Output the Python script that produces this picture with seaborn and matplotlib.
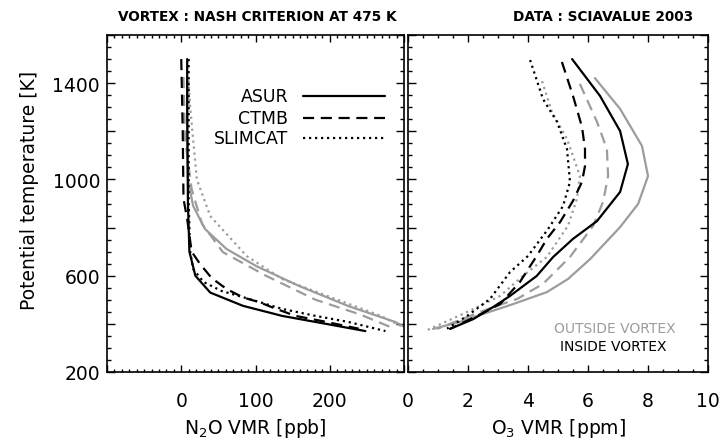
import numpy as np
import pandas as pd
import matplotlib
matplotlib.use("Agg")
import matplotlib.pyplot as plt
from matplotlib.lines import Line2D
from matplotlib.ticker import MultipleLocator, FuncFormatter
import seaborn as sns

sns.set_style("white")
plt.rcParams["font.family"] = ["DejaVu Sans"]
plt.rcParams["text.color"] = "black"
plt.rcParams["axes.labelcolor"] = "black"
plt.rcParams["xtick.color"] = "black"
plt.rcParams["ytick.color"] = "black"

# ---- N2O profiles (ppb) vs potential temperature (K) ----
n2o_asur_in_theta = [1500, 1300, 1100, 900, 700, 600, 530, 475, 433, 400, 370]
n2o_asur_in = [8, 8, 8.5, 9, 11, 19, 39, 83, 136, 195, 248]
n2o_ctmb_in_theta = [1500, 1200, 920, 835, 700, 650, 590, 545, 510, 490, 462, 433, 412, 380]
n2o_ctmb_in = [0, 2, 3, 8, 14, 25, 41, 61, 83, 105, 128, 154, 189, 239]
n2o_slim_in_theta = [1500, 1200, 900, 700, 628, 574, 537, 503, 462, 433, 408, 370]
n2o_slim_in = [10, 10, 10, 12, 16, 30, 54, 92, 136, 181, 225, 275]

n2o_asur_out_theta = [1420, 1200, 1000, 890, 794, 711, 640, 557, 474, 408, 380]
n2o_asur_out = [8, 8, 9, 16, 32, 61, 101, 159, 225, 288, 305]
n2o_ctmb_out_theta = [1425, 1168, 960, 815, 698, 600, 500, 440, 379]
n2o_ctmb_out = [3, 5, 14, 28, 56, 114, 181, 240, 288]
n2o_slim_out_theta = [1410, 1300, 1000, 848, 682, 586, 503, 433, 391, 370]
n2o_slim_out = [10, 12, 21, 39, 88, 136, 208, 269, 296, 315]

# ---- O3 profiles (ppm) vs potential temperature (K) ----
o3_asur_in_theta = [1500, 1347, 1201, 1064, 948, 827, 753, 678, 599, 516, 470, 420, 379]
o3_asur_in = [5.47, 6.4, 7.07, 7.33, 7.07, 6.3, 5.5, 4.84, 4.29, 3.4, 2.84, 2.18, 1.4]
o3_ctmb_in_theta = [1488, 1347, 1218, 1126, 1056, 990, 911, 823, 753, 682, 574, 482, 433, 379]
o3_ctmb_in = [5.13, 5.5, 5.8, 5.9, 5.9, 5.8, 5.5, 5.07, 4.63, 4.29, 3.73, 3.07, 2.3, 1.4]
o3_slim_in_theta = [1496, 1334, 1239, 1126, 990, 890, 794, 682, 615, 503, 433, 380]
o3_slim_in = [4.07, 4.5, 4.97, 5.3, 5.4, 5.17, 4.67, 4.0, 3.4, 2.73, 1.97, 1.3]

o3_asur_out_theta = [1421, 1293, 1139, 1014, 898, 802, 669, 586, 532, 482, 441, 408, 379]
o3_asur_out = [6.23, 7.07, 7.8, 8.0, 7.67, 7.07, 6.07, 5.33, 4.63, 3.5, 2.5, 1.73, 0.83]
o3_ctmb_out_theta = [1397, 1239, 1126, 1014, 906, 807, 678, 566, 503, 470, 428, 379]
o3_ctmb_out = [5.73, 6.3, 6.63, 6.67, 6.5, 6.17, 5.4, 4.5, 3.63, 2.84, 1.97, 0.97]
o3_slim_out_theta = [1408, 1280, 1168, 1072, 1014, 919, 807, 678, 599, 516, 449, 370]
o3_slim_out = [4.47, 4.8, 5.3, 5.57, 5.73, 5.63, 5.33, 4.63, 3.83, 3.07, 1.97, 0.57]

models = ["ASUR", "CTMB", "SLIMCAT"]
regions = ["OUTSIDE VORTEX", "INSIDE VORTEX"]

GRAY = "#9c9c9c"
palette = {"OUTSIDE VORTEX": GRAY, "INSIDE VORTEX": "black"}
dashes = {"ASUR": "", "CTMB": (5, 3), "SLIMCAT": (1, 1.7)}


def frame(profiles):
    rows = []
    for (model, region), (theta, vmr) in profiles.items():
        for t, v in zip(theta, vmr):
            rows.append({"model": model, "region": region, "theta": t, "vmr": v})
    return pd.DataFrame(rows)


n2o = frame({
    ("ASUR", "OUTSIDE VORTEX"): (n2o_asur_out_theta, n2o_asur_out),
    ("CTMB", "OUTSIDE VORTEX"): (n2o_ctmb_out_theta, n2o_ctmb_out),
    ("SLIMCAT", "OUTSIDE VORTEX"): (n2o_slim_out_theta, n2o_slim_out),
    ("ASUR", "INSIDE VORTEX"): (n2o_asur_in_theta, n2o_asur_in),
    ("CTMB", "INSIDE VORTEX"): (n2o_ctmb_in_theta, n2o_ctmb_in),
    ("SLIMCAT", "INSIDE VORTEX"): (n2o_slim_in_theta, n2o_slim_in),
})
o3 = frame({
    ("ASUR", "OUTSIDE VORTEX"): (o3_asur_out_theta, o3_asur_out),
    ("CTMB", "OUTSIDE VORTEX"): (o3_ctmb_out_theta, o3_ctmb_out),
    ("SLIMCAT", "OUTSIDE VORTEX"): (o3_slim_out_theta, o3_slim_out),
    ("ASUR", "INSIDE VORTEX"): (o3_asur_in_theta, o3_asur_in),
    ("CTMB", "INSIDE VORTEX"): (o3_ctmb_in_theta, o3_ctmb_in),
    ("SLIMCAT", "INSIDE VORTEX"): (o3_slim_in_theta, o3_slim_in),
})

fig = plt.figure(figsize=(7.21, 4.39), dpi=100)
ax1 = fig.add_axes([107 / 721, 1 - 373 / 439, 297 / 721, 337 / 439])
ax2 = fig.add_axes([408 / 721, 1 - 373 / 439, 300 / 721, 337 / 439])

for ax, df in ((ax1, n2o), (ax2, o3)):
    sns.lineplot(data=df, x="vmr", y="theta", hue="region", style="model",
                 hue_order=regions, style_order=models, palette=palette,
                 dashes=dashes, sort=False, estimator=None, orient="y",
                 lw=1.6, legend=False, ax=ax)

ylabels = {200: "200", 600: "600", 1000: "1000", 1400: "1400"}
for ax in (ax1, ax2):
    ax.set_ylim(200, 1600)
    ax.yaxis.set_major_locator(MultipleLocator(200))
    ax.yaxis.set_minor_locator(MultipleLocator(50))
    ax.tick_params(axis="both", which="both", direction="in",
                   top=True, right=True, bottom=True, left=True, width=1.0,
                   colors="black", labelsize=13.5)
    ax.tick_params(axis="y", which="major", length=5.5, pad=5)
    ax.tick_params(axis="y", which="minor", length=3)
    ax.tick_params(axis="x", which="major", length=5, pad=14)
    ax.tick_params(axis="x", which="minor", length=2.5)
    for s in ax.spines.values():
        s.set_color("black")
        s.set_linewidth(1.2)
    ax.set_xlabel("")
    ax.set_ylabel("")

ax1.yaxis.set_major_formatter(FuncFormatter(lambda v, p: ylabels.get(int(round(v)), "")))
ax2.tick_params(axis="y", labelleft=False)

ax1.set_xlim(-100, 300)
ax1.xaxis.set_major_locator(MultipleLocator(100))
ax1.xaxis.set_minor_locator(MultipleLocator(10))
ax1.xaxis.set_major_formatter(FuncFormatter(lambda v, p: f"{int(v)}" if 0 <= v <= 200 else ""))

ax2.set_xlim(0, 10)
ax2.xaxis.set_major_locator(MultipleLocator(2))
ax2.xaxis.set_minor_locator(MultipleLocator(0.5))
ax2.xaxis.set_major_formatter(FuncFormatter(lambda v, p: f"{int(v)}"))

fig.text(30 / 721, 1 - 190 / 439, "Potential temperature [K]", rotation=90,
         ha="center", va="center", fontsize=13.5)
ax1.set_xlabel(r"N$_2$O VMR [ppb]", fontsize=13.5, labelpad=4)
ax2.set_xlabel(r"O$_3$ VMR [ppm]", fontsize=13.5, labelpad=4)

# Titles above each panel
fig.text(397 / 721, 1 - 17 / 439, "VORTEX : NASH CRITERION AT 475 K",
         ha="right", va="center", fontsize=9.8, fontweight="bold")
fig.text(693 / 721, 1 - 17 / 439, "DATA : SCIAVALUE 2003",
         ha="right", va="center", fontsize=9.8, fontweight="bold")

# Model key in the N2O panel
key_y = [97, 119, 139]
for name, y in zip(models, key_y):
    yf = 1 - y / 439
    fig.text(288 / 721, yf, name, ha="right", va="center", fontsize=12.5)
    fig.add_artist(Line2D([303 / 721, 385 / 721], [yf, yf], color="black", lw=1.6,
                          linestyle=(0, dashes[name]) if dashes[name] else "-"))

# Region key in the O3 panel
fig.text(615 / 721, 1 - 329 / 439, "OUTSIDE VORTEX", ha="center", va="center",
         fontsize=10, color=GRAY)
fig.text(613 / 721, 1 - 347 / 439, "INSIDE VORTEX", ha="center", va="center",
         fontsize=10, color="black")

fig.savefig("out.png", dpi=100)
